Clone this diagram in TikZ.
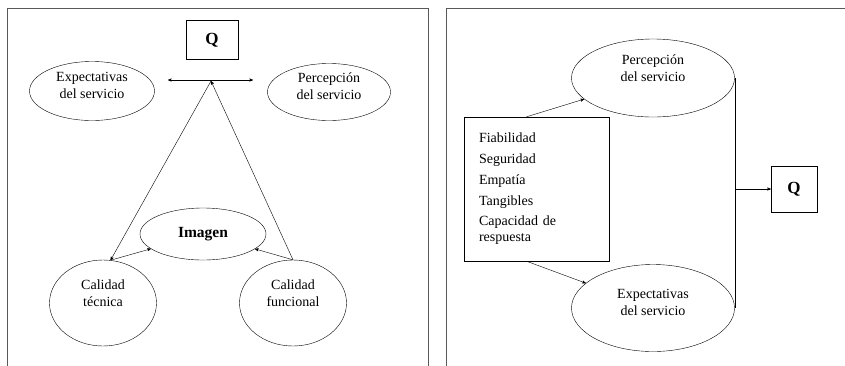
\documentclass[tikz,border=0pt]{standalone}
\usepackage{fontspec}
\setmainfont{Liberation Serif}
\usepackage{tikz}
\usetikzlibrary{calc,positioning,arrows,shapes.geometric}
\tikzstyle{oval} = [draw=black,ellipse,inner sep=0,align=center,font=\fontsize{14}{17}\selectfont]
\tikzstyle{qbox} = [draw=black,rectangle,inner sep=0,font=\fontsize{17}{20}\selectfont\bfseries]
\tikzstyle{panel} = [draw=black!65,line width=0.9pt]
\tikzset{semithick, >=stealth', x=1pt, y=-1pt}

\begin{document}
\begin{tikzpicture}
\useasboundingbox (0,0) rectangle (845,365);
% marcos
\draw[panel] (7,366) -- (7,8) -- (428,8) -- (428,366);
\draw[panel] (446,366) -- (446,8) -- (846,8);

% modelo nordico
\node[qbox, minimum width=52pt, minimum height=39pt] (q1) at (212,40) {Q};
\node[oval, minimum width=125pt, minimum height=59pt, text depth=11pt] (exp1) at (92,91) {Expectativas\\del servicio};
\node[oval, minimum width=123pt, minimum height=57pt, text depth=11pt] (per1) at (329,92) {Percepción\\del servicio};
\node[oval, minimum width=126pt, minimum height=52pt, font=\fontsize{15.5}{18}\selectfont\bfseries] (img) at (203,234) {Imagen};
\node[oval, minimum width=107pt, minimum height=86pt, text depth=19pt] (tec) at (103,303) {Calidad\\técnica};
\node[oval, minimum width=107pt, minimum height=86pt, text depth=19pt] (fun) at (293,303) {Calidad\\funcional};

\coordinate (apex) at (211,81);
\coordinate (izq) at (168,80);
\coordinate (der) at (253,80);

\draw[<->] (izq) -- (der);
\draw[->] (apex) -- (tec.80);
\draw[->] (fun.north) -- (apex);
\draw[->] (tec.80) -- (img);
\draw[->] (fun.north) -- (img);

% modelo servqual
\node[oval, minimum width=163pt, minimum height=78pt, text depth=19pt] (per2) at (653,78) {Percepción\\del servicio};
\node[oval, minimum width=163pt, minimum height=87pt, text depth=11pt] (exp2) at (653,308) {Expectativas\\del servicio};
\node[draw=black, minimum height=144pt, text width=115pt, inner xsep=15pt, align=left, font=\fontsize{14}{16}\selectfont] (dim) at (536.5,189) {Fiabilidad\\[4.75pt]Seguridad\\[4.75pt]Empatía\\[4.75pt]Tangibles\\[4.75pt]Capacidad de\\respuesta};
\node[qbox, minimum width=46pt, minimum height=46pt] (q2) at (794,189) {Q};

\draw[->] ([xshift=-10pt]dim.north) -- (per2);
\draw[->] ([xshift=-10pt]dim.south) -- (exp2);
\draw (per2.east) -- (exp2.east);
\draw[->] (q2.west -| per2.east) -- (q2);
\end{tikzpicture}
\end{document}
